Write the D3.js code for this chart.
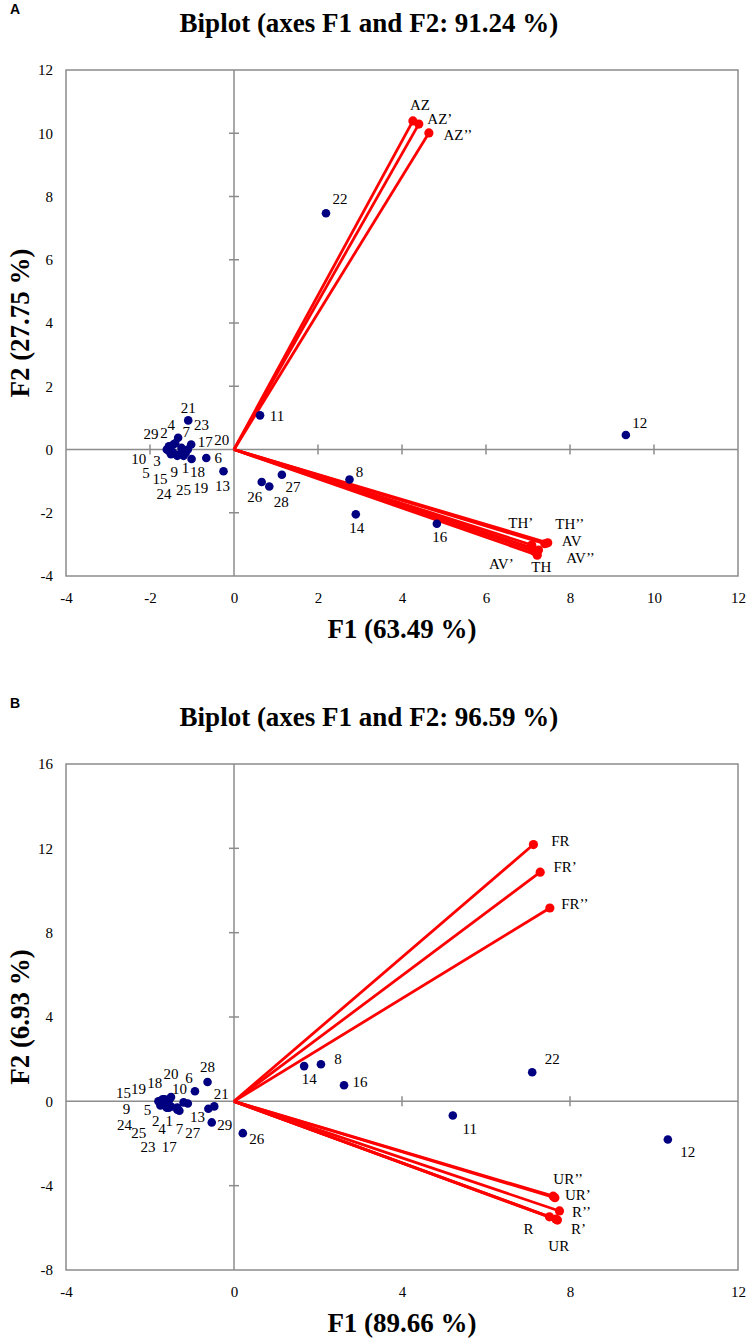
<!DOCTYPE html>
<html>
<head>
<meta charset="utf-8">
<script src="https://cdn.jsdelivr.net/npm/d3@7"></script>
<style>
  html, body { margin: 0; padding: 0; background: #fff; }
  svg { display: block; }
</style>
</head>
<body>
<svg id="chart" width="756" height="1339"></svg>
<script>
// ---------------- DATA ----------------
// Panel A
const titleA = "Biplot (axes F1 and F2: 91.24 %)";
const xTitleA = "F1 (63.49 %)";
const yTitleA = "F2 (27.75 %)";
const xTicksA = [-4, -2, 0, 2, 4, 6, 8, 10, 12];
const yTicksA = [-4, -2, 0, 2, 4, 6, 8, 10, 12];
const obsNamesA = ["1","2","3","4","5","6","7","8","9","10","11","12","13","14","15","16","17","18","19","20","21","22","23","24","25","26","27","28","29"];
const obsF1A = [-1.2,-1.45,-1.5,-1.4,-1.55,-0.66,-1.33,2.75,-1.35,-1.6,0.62,9.33,-0.25,2.9,-1.5,4.83,-1.02,-1.01,-1.15,-1.1,-1.09,2.19,-1.25,-1.45,-1.3,0.66,1.14,0.84,-1.55];
const obsF2A = [-0.2,0.15,-0.1,0.2,-0.05,-0.27,0.37,-0.95,-0.2,0.0,1.08,0.46,-0.69,-2.05,-0.15,-2.35,0.16,-0.3,-0.1,0.0,0.92,7.47,0.05,-0.1,-0.15,-1.03,-0.8,-1.17,0.1];
const varNamesA = ["AZ","AZ’","AZ’’","TH","TH’","TH’’","AV","AV’","AV’’"];
const varF1A = [4.26,4.40,4.64,7.22,7.09,7.40,7.47,7.15,7.25];
const varF2A = [10.39,10.29,10.01,-3.34,-3.02,-2.98,-2.95,-3.22,-3.18];

// Panel B
const titleB = "Biplot (axes F1 and F2: 96.59 %)";
const xTitleB = "F1 (89.66 %)";
const yTitleB = "F2 (6.93 %)";
const xTicksB = [-4, 0, 4, 8, 12];
const yTicksB = [-8, -4, 0, 4, 8, 12, 16];
const obsNamesB = ["1","2","3","4","5","6","7","8","9","10","11","12","13","14","15","16","17","18","19","20","21","22","23","24","25","26","27","28","29"];
const obsF1B = [-1.35,-1.6,-1.55,-1.5,-1.7,-0.93,-1.3,2.07,-1.75,-1.2,5.21,10.33,-0.61,1.67,-1.8,2.62,-1.35,-1.65,-1.7,-1.5,-0.47,7.10,-1.55,-1.75,-1.6,0.21,-1.1,-0.63,-0.53];
const obsF2B = [-0.3,-0.2,0.05,-0.25,-0.05,0.48,-0.45,1.76,-0.15,-0.05,-0.67,-1.81,-0.35,1.67,0.0,0.76,-0.4,0.1,0.1,0.2,-0.24,1.38,-0.3,-0.2,-0.3,-1.51,-0.1,0.92,-1.0];
const varNamesB = ["FR","FR’","FR’’","UR’’","UR’","R’’","R","R’","UR"];
const varF1B = [7.13,7.29,7.52,7.60,7.64,7.75,7.51,7.70,7.66];
const varF2B = [12.18,10.87,9.17,-4.50,-4.57,-5.20,-5.48,-5.63,-5.58];

// ---------------- LAYOUT (label offsets in px, not data) ----------------
const obsLabelOffA = {
  "1":[2,12],"2":[-9,-12],"3":[-14,8],"4":[-4,-18],"5":[-23,22],"6":[12,0],"7":[8,-6],"8":[10,-8],
  "9":[-3,16],"10":[-28,9],"11":[17,0],"12":[14,-12],"13":[-1,14],"14":[1,13],"15":[-11,25],"16":[3,13],
  "17":[14,-3],"18":[6,13],"19":[15,35],"20":[34,-10],"21":[0,-13],"22":[14,-15],"23":[20,-23],
  "24":[-9,41],"25":[4,36],"26":[-7,15],"27":[11,12],"28":[12,15],"29":[-18,-13]
};
const varLabelOffA = {
  "AZ":[7,-16],"AZ’":[21,-5],"AZ’’":[29,2],"TH":[4,12],"TH’":[-11,-22],"TH’’":[25,-20],
  "AV":[24,-2],"AV’":[-33,12],"AV’’":[42,8]
};
const obsLabelOffB = {
  "1":[-8,13],"2":[-11,15],"4":[-9,22],"5":[-15,7],"6":[-6,-13],"7":[0,18],"8":[17,-5],
  "9":[-34,4],"10":[-4,-14],"11":[17,13],"12":[20,12],"13":[-11,8],"14":[5,13],"15":[-35,-9],
  "16":[16,-4],"17":[-8,37],"18":[-10,-16],"19":[-24,-10],"20":[0,-23],"21":[7,-13],"22":[20,-13],
  "23":[-21,39],"24":[-36,19],"25":[-28,25],"26":[14,6],"27":[5,29],"28":[0,-15],"29":[13,2]
};
const varLabelOffB = {
  "FR":[27,-4],"FR’":[25,-5],"FR’’":[25,-4],"UR’’":[15,-17],"UR’":[23,-3],"R’’":[22,1],
  "R":[-21,12],"R’":[21,9],"UR":[3,27]
};

const svg = d3.select("#chart");
const SERIF = '"Liberation Serif", "Times New Roman", serif';
const GRAY = "#8c8c8c";
const NAVY = "#000080";
const RED = "#ff0000";

function drawPanel(cfg) {
  const g = svg.append("g").attr("transform", `translate(0,${cfg.offY})`);
  const left = 66, right = 738, top = 70, bottom = 576;
  const x = d3.scaleLinear().domain(cfg.xDomain).range([left, right]);
  const y = d3.scaleLinear().domain(cfg.yDomain).range([bottom, top]);

  // panel letter
  g.append("text").attr("x", 15).attr("y", 14)
    .style("font-family", "'Liberation Sans', Arial, sans-serif").attr("font-weight", "bold")
    .attr("font-size", 14).attr("text-anchor", "middle").text(cfg.letter);

  // title
  g.append("text").attr("x", 369).attr("y", 32)
    .style("font-family", SERIF).attr("font-weight", "bold").attr("font-size", 27)
    .attr("text-anchor", "middle").text(cfg.title);

  // frame
  g.append("rect").attr("x", left).attr("y", top)
    .attr("width", right - left).attr("height", bottom - top)
    .attr("fill", "none").attr("stroke", GRAY).attr("stroke-width", 1.5);

  // zero lines
  g.append("line").attr("x1", left).attr("x2", right).attr("y1", y(0)).attr("y2", y(0))
    .attr("stroke", GRAY).attr("stroke-width", 1.5);
  g.append("line").attr("x1", x(0)).attr("x2", x(0)).attr("y1", top).attr("y2", bottom)
    .attr("stroke", GRAY).attr("stroke-width", 1.5);

  // tick crosses on zero lines
  g.selectAll(".xt").data(cfg.xTicks.filter(t => t !== 0 && t !== cfg.xDomain[0] && t !== cfg.xDomain[1]))
    .join("line").attr("x1", d => x(d)).attr("x2", d => x(d))
    .attr("y1", y(0) - 5).attr("y2", y(0) + 5).attr("stroke", GRAY).attr("stroke-width", 1.5);
  g.selectAll(".yt").data(cfg.yTicks.filter(t => t !== 0 && t !== cfg.yDomain[0] && t !== cfg.yDomain[1]))
    .join("line").attr("y1", d => y(d)).attr("y2", d => y(d))
    .attr("x1", x(0) - 5).attr("x2", x(0) + 5).attr("stroke", GRAY).attr("stroke-width", 1.5);

  // axes (labels only)
  const xAxis = g.append("g").attr("transform", `translate(0,${bottom})`)
    .call(d3.axisBottom(x).tickValues(cfg.xTicks).tickSize(0).tickPadding(16).tickFormat(d => String(d)));
  const yAxis = g.append("g").attr("transform", `translate(${left},0)`)
    .call(d3.axisLeft(y).tickValues(cfg.yTicks).tickSize(0).tickPadding(13).tickFormat(d => String(d)));
  [xAxis, yAxis].forEach(a => {
    a.attr("font-family", null).attr("font-size", null);
    a.select(".domain").remove();
    a.selectAll("text").style("font-family", SERIF).style("font-size", "15px").attr("fill", "#000");
  });

  // axis titles
  g.append("text").attr("x", (left + right) / 2).attr("y", 638)
    .style("font-family", SERIF).attr("font-weight", "bold").attr("font-size", 27)
    .attr("text-anchor", "middle").text(cfg.xTitle);
  g.append("text").attr("transform", `translate(29,${(top + bottom) / 2}) rotate(-90)`)
    .style("font-family", SERIF).attr("font-weight", "bold").attr("font-size", 27)
    .attr("text-anchor", "middle").text(cfg.yTitle);

  // variable vectors
  const vars = cfg.varNames.map((n, i) => ({ n, f1: cfg.varF1[i], f2: cfg.varF2[i] }));
  g.selectAll(".vec").data(vars).join("line")
    .attr("x1", x(0)).attr("y1", y(0))
    .attr("x2", d => x(d.f1)).attr("y2", d => y(d.f2))
    .attr("stroke", RED).attr("stroke-width", 2.8);
  g.selectAll(".vdot").data(vars).join("circle")
    .attr("cx", d => x(d.f1)).attr("cy", d => y(d.f2)).attr("r", 4.6).attr("fill", RED);

  // observations
  const obs = cfg.obsNames.map((n, i) => ({ n, f1: cfg.obsF1[i], f2: cfg.obsF2[i] }));
  g.selectAll(".odot").data(obs).join("circle")
    .attr("cx", d => x(d.f1)).attr("cy", d => y(d.f2)).attr("r", 4.3).attr("fill", NAVY);

  // labels
  g.selectAll(".olab").data(obs.filter(d => cfg.obsOff[d.n])).join("text")
    .attr("x", d => x(d.f1) + cfg.obsOff[d.n][0])
    .attr("y", d => y(d.f2) + cfg.obsOff[d.n][1])
    .attr("dy", "0.35em").attr("text-anchor", "middle")
    .style("font-family", SERIF).attr("font-size", 15).text(d => d.n);
  g.selectAll(".vlab").data(vars).join("text")
    .attr("x", d => x(d.f1) + cfg.varOff[d.n][0])
    .attr("y", d => y(d.f2) + cfg.varOff[d.n][1])
    .attr("dy", "0.35em").attr("text-anchor", "middle")
    .style("font-family", SERIF).attr("font-size", 15).text(d => d.n);
}

drawPanel({
  offY: 0, letter: "A", title: titleA, xTitle: xTitleA, yTitle: yTitleA,
  xDomain: [-4, 12], yDomain: [-4, 12], xTicks: xTicksA, yTicks: yTicksA,
  obsNames: obsNamesA, obsF1: obsF1A, obsF2: obsF2A,
  varNames: varNamesA, varF1: varF1A, varF2: varF2A,
  obsOff: obsLabelOffA, varOff: varLabelOffA
});
drawPanel({
  offY: 694, letter: "B", title: titleB, xTitle: xTitleB, yTitle: yTitleB,
  xDomain: [-4, 12], yDomain: [-8, 16], xTicks: xTicksB, yTicks: yTicksB,
  obsNames: obsNamesB, obsF1: obsF1B, obsF2: obsF2B,
  varNames: varNamesB, varF1: varF1B, varF2: varF2B,
  obsOff: obsLabelOffB, varOff: varLabelOffB
});
</script>
</body>
</html>
